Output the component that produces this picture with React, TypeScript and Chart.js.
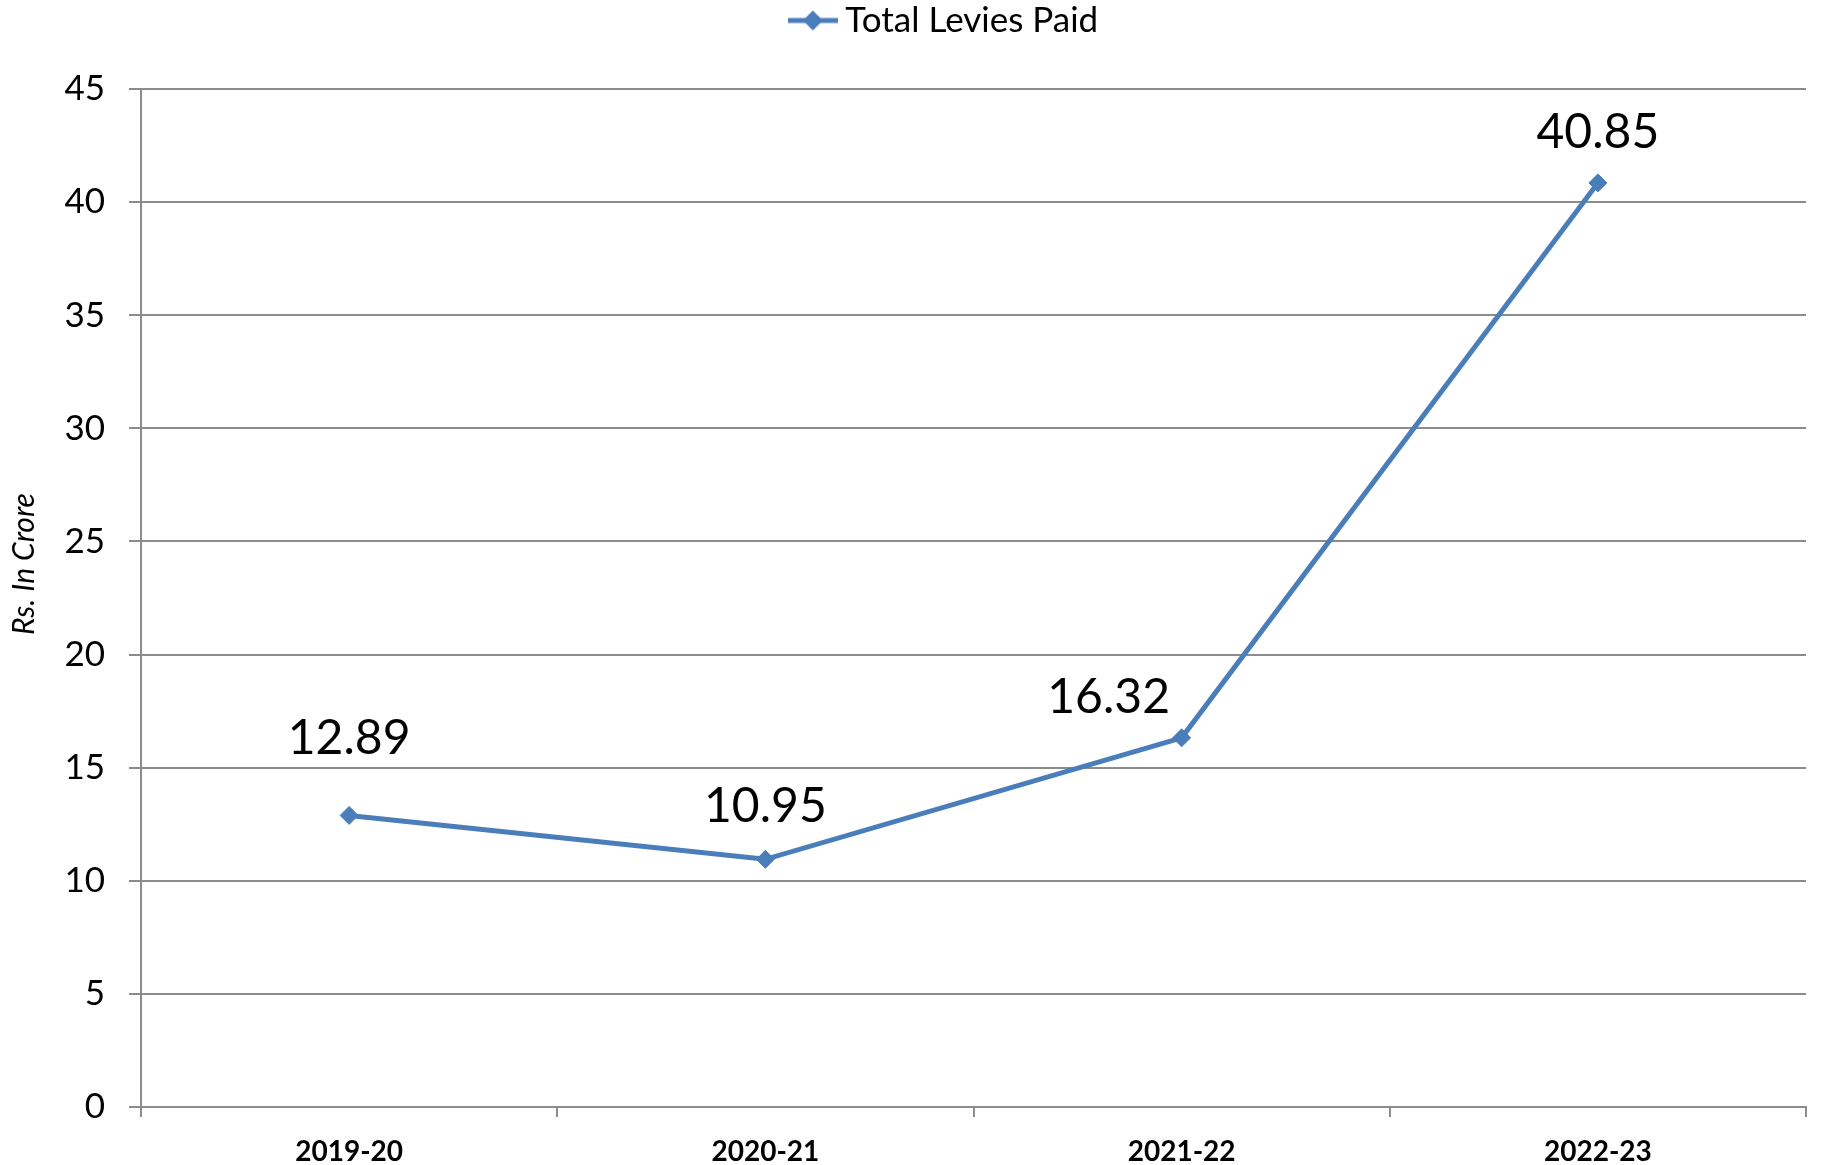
import React, { useEffect, useRef } from "react";
import { Chart, registerables } from "chart.js";

Chart.register(...registerables);

const categories = ["2019-20", "2020-21", "2021-22", "2022-23"];
const seriesName = "Total Levies Paid";
const levies = [12.89, 10.95, 16.32, 40.85];
const valueLabels = ["12.89", "10.95", "16.32", "40.85"];
const yMin = 0;
const yMax = 45;
const yStep = 5;
const yTitle = "Rs. In Crore";

// label offsets (px) relative to each point – style only
const labelOffsets = [
  [0, -77],
  [0, -53],
  [-73, -40],
  [0, -50],
];

const BLUE = "#4a7ebb";
const GRID = "#8c8c8c";
const FONT = "Lato, 'Open Sans', sans-serif";

export default function App() {
  const ref = useRef<HTMLCanvasElement | null>(null);

  useEffect(() => {
    if (!ref.current) return;

    const legendImg = document.createElement("canvas");
    legendImg.width = 50;
    legendImg.height = 24;
    const lctx = legendImg.getContext("2d")!;
    lctx.strokeStyle = BLUE;
    lctx.lineWidth = 5;
    lctx.beginPath();
    lctx.moveTo(0, 12);
    lctx.lineTo(50, 12);
    lctx.stroke();
    lctx.fillStyle = BLUE;
    lctx.beginPath();
    lctx.moveTo(25, 2);
    lctx.lineTo(35, 12);
    lctx.lineTo(25, 22);
    lctx.lineTo(15, 12);
    lctx.closePath();
    lctx.fill();

    const labelPlugin = {
      id: "valueLabels",
      afterDatasetsDraw(chart: any) {
        const ctx = chart.ctx;
        const meta = chart.getDatasetMeta(0);
        ctx.save();
        ctx.font = `48px ${FONT}`;
        ctx.fillStyle = "#000";
        ctx.textAlign = "center";
        ctx.textBaseline = "middle";
        meta.data.forEach((pt: any, i: number) => {
          const [dx, dy] = labelOffsets[i];
          ctx.fillText(valueLabels[i], pt.x + dx, pt.y + dy);
        });
        ctx.restore();
      },
    };

    const yTitlePlugin = {
      id: "yTitle",
      afterDraw(chart: any) {
        const ctx = chart.ctx;
        const ca = chart.chartArea;
        ctx.save();
        ctx.translate(24, (ca.top + ca.bottom) / 2 - 34);
        ctx.rotate(-Math.PI / 2);
        ctx.font = `italic 30px ${FONT}`;
        ctx.fillStyle = "#000";
        ctx.textAlign = "center";
        ctx.textBaseline = "middle";
        ctx.fillText(yTitle, 0, 0);
        ctx.restore();
      },
    };

    const chart = new Chart(ref.current, {
      type: "line",
      data: {
        labels: categories,
        datasets: [
          {
            label: seriesName,
            data: levies,
            borderColor: BLUE,
            backgroundColor: BLUE,
            borderWidth: 5,
            pointStyle: "rectRot",
            pointRadius: 9,
            pointBackgroundColor: BLUE,
            pointBorderColor: BLUE,
            pointBorderWidth: 1,
            tension: 0,
          },
        ],
      },
      options: {
        responsive: false,
        animation: false,
        layout: { padding: { left: 0, right: 25, top: 0, bottom: 0 } },
        plugins: {
          tooltip: { enabled: false },
          legend: {
            display: true,
            position: "top",
            labels: {
              usePointStyle: true,
              pointStyleWidth: 30,
              boxHeight: 24,
              padding: 3,
              color: "#000",
              font: { family: FONT, size: 35 },
              generateLabels: (c: any) => {
                const items = (Chart as any).defaults.plugins.legend.labels.generateLabels(c);
                items.forEach((it: any) => {
                  it.pointStyle = legendImg;
                });
                return items;
              },
            },
          },
        },
        scales: {
          x: {
            type: "category",
            offset: true,
            grid: {
              display: true,
              offset: true,
              drawOnChartArea: false,
              drawTicks: true,
              tickLength: 10,
              color: GRID,
              lineWidth: 2,
            },
            border: { display: true, color: GRID, width: 2 },
            ticks: {
              color: "#000",
              padding: 18,
              font: { family: FONT, size: 28, weight: "bold" },
              maxRotation: 0,
            },
            afterFit: (s: any) => {
              s.height = 58;
            },
          },
          y: {
            min: yMin,
            max: yMax,
            grid: {
              color: GRID,
              lineWidth: 2,
              drawTicks: true,
              tickLength: 12,
            },
            border: { display: true, color: GRID, width: 2 },
            ticks: {
              stepSize: yStep,
              color: "#000",
              padding: 24,
              font: { family: FONT, size: 35 },
            },
            title: { display: false },
            afterFit: (s: any) => {
              s.width = 141;
            },
          },
        },
      },
      plugins: [labelPlugin, yTitlePlugin],
    });

    const lg: any = (chart as any).legend;
    if (lg) {
      const origFit = lg.fit.bind(lg);
      lg.fit = function () {
        origFit();
        this.height = 89;
      };
      const origDraw = lg.draw.bind(lg);
      lg.draw = function () {
        const ctx = this.ctx;
        ctx.save();
        ctx.translate(45, 0);
        origDraw();
        ctx.restore();
      };
      chart.update();
    }

    return () => chart.destroy();
  }, []);

  return (
    <div style={{ position: "absolute", left: 0, top: 0, width: 1831, height: 1165, background: "#fff" }}>
      <canvas ref={ref} width={1831} height={1165} />
    </div>
  );
}
